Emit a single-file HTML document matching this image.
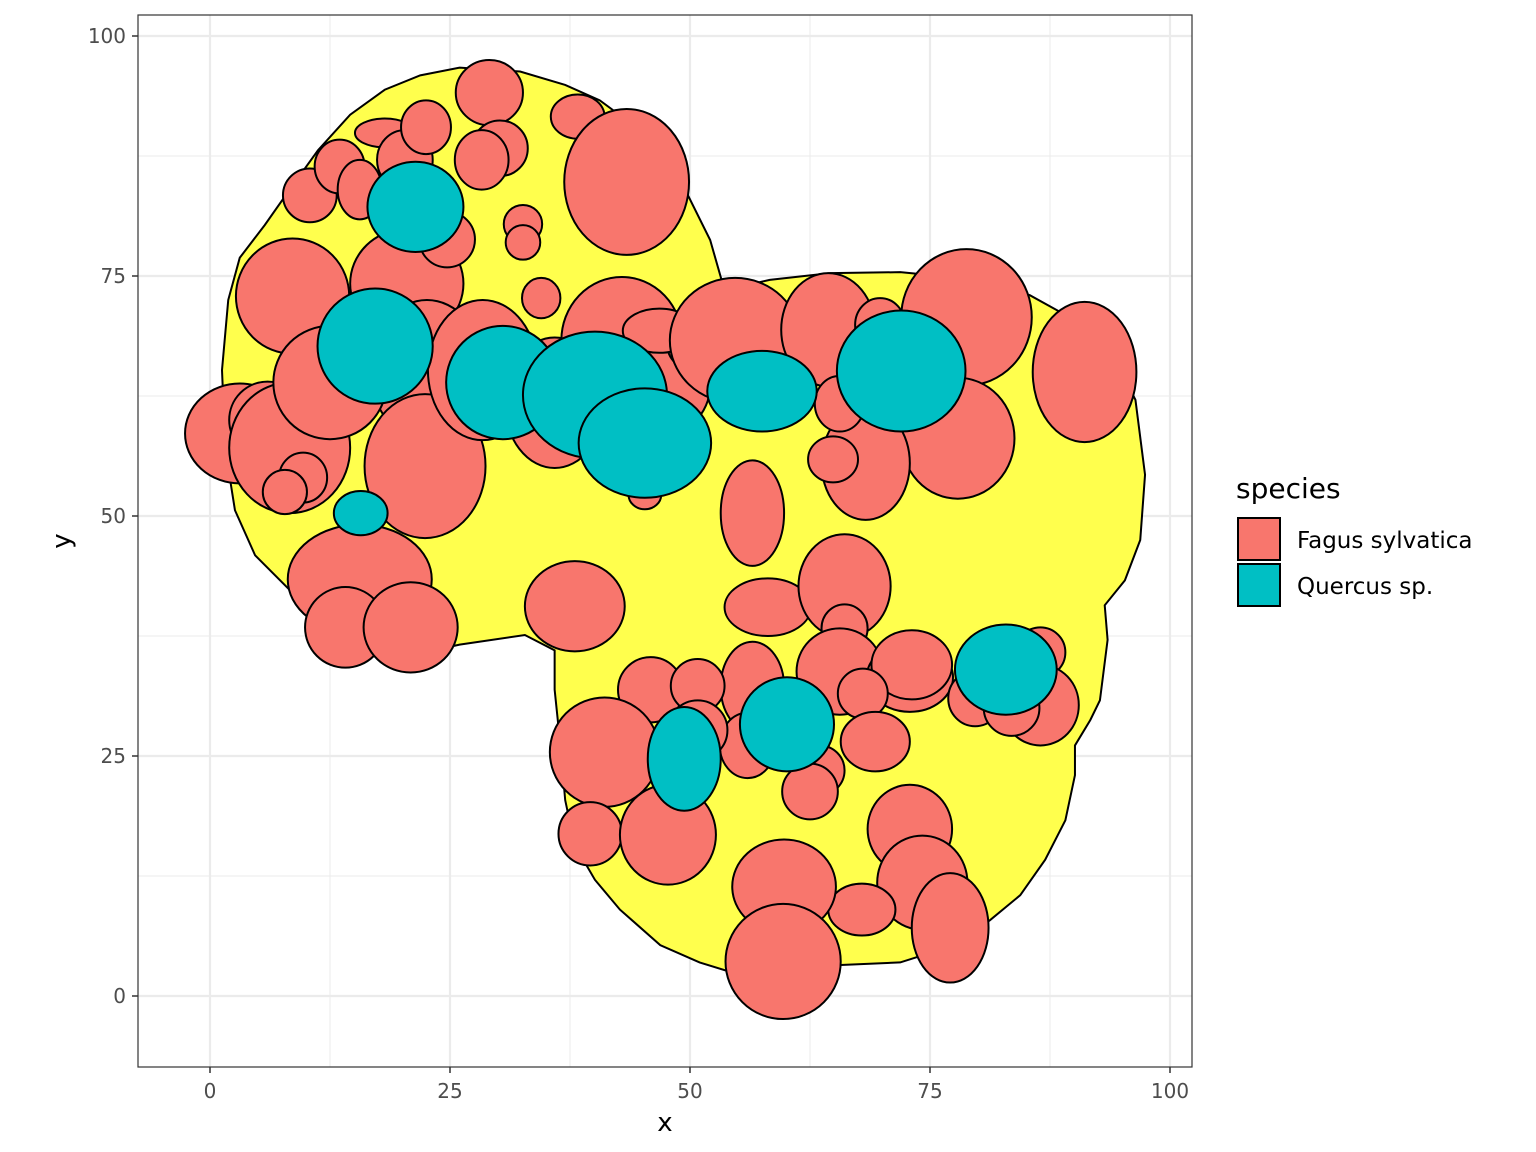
<!DOCTYPE html>
<html><head><meta charset="utf-8"><style>
body{margin:0;background:#fff}
svg{display:block;font-family:"DejaVu Sans","Liberation Sans",sans-serif}
</style></head><body>
<svg id="chart" width="1536" height="1152" viewBox="0 0 1536 1152">
<rect width="1536" height="1152" fill="#fff"/>
<g id="grid"></g>
<g id="hull"></g>
<g id="crowns"></g>
<rect x="138" y="15" width="1054" height="1052" fill="none" stroke="#333" stroke-width="1.2"/>
<g id="axes"></g>
<text x="665" y="1131" font-size="26" text-anchor="middle" fill="#000">x</text>
<text x="0" y="0" font-size="26" text-anchor="middle" fill="#000" transform="translate(70,541) rotate(-90)">y</text>
<g>
<text x="1236" y="498" font-size="28" fill="#000">species</text>
<g>
<rect x="1238" y="518" width="42" height="42" fill="#F8766D" stroke="#000" stroke-width="2"/>
<text x="1297" y="548" font-size="23" fill="#000">Fagus sylvatica</text></g>
<g>
<rect x="1238" y="564" width="42" height="42" fill="#00BFC4" stroke="#000" stroke-width="2"/>
<text x="1297" y="594" font-size="23" fill="#000">Quercus sp.</text></g>
</g>
</svg>
<script>
const xTicks=[0,25,50,75,100];
const yTicks=[0,25,50,75,100];
const xMinor=[-12.5,12.5,37.5,62.5,87.5];
const yMinor=[12.5,37.5,62.5,87.5];
// hull polygon (data units)
const hullX=[1.25,1.9,3.1,5.7,8.3,11.25,14.6,18.2,21.9,26.0,32.3,37.0,40.6,44.8,49.0,52.1,53.6,58.3,64.6,71.9,80.2,85.4,90.1,93.75,96.4,97.4,96.9,95.3,93.2,93.5,92.7,91.7,90.1,90.1,89.1,87.0,84.4,81.25,77.6,71.9,65.1,61.5,55.2,51.0,46.9,42.7,40.1,38.0,37.0,36.5,35.9,35.9,32.8,26.0,21.9,17.7,12.5,8.3,4.7,2.6,1.6];
const hullY=[65.2,72.5,76.9,80.3,84.0,88.1,91.8,94.4,95.9,96.7,96.3,94.9,93.3,90.2,85.0,78.75,73.5,74.6,75.3,75.4,74.6,73.0,70.4,67.3,62.1,54.3,47.5,43.3,40.7,37.1,30.8,28.75,26.1,23.0,18.3,14.2,10.5,7.9,5.3,3.5,3.2,2.2,2.2,3.5,5.3,9.0,12.1,15.7,20.4,26.1,31.9,36.0,37.6,36.6,35.7,37.1,40.2,42.3,45.9,50.6,56.9];
// Fagus sylvatica crowns
const fagusX=[3.1,6.0,8.3,8.6,20.5,22.6,22.4,12.5,15.6,14.1,20.9,9.7,7.8,10.4,13.5,15.6,18.2,20.3,22.5,24.7,29.1,30.2,28.3,32.6,32.6,34.5,38.3,43.4,28.4,35.9,42.9,45.8,50.5,46.8,54.7,64.4,69.8,78.8,77.9,68.3,64.9,65.6,91.1,56.5,58.1,66.1,66.1,65.6,72.9,73.1,68.0,69.3,79.7,84.6,86.5,86.5,83.5,38.0,45.9,41.1,39.6,47.7,56.5,56.0,50.8,50.8,63.5,62.5,72.9,74.2,77.1,67.9,59.8,59.7,45.3];
const fagusY=[58.6,60.0,57.1,72.9,74.2,65.2,55.2,63.9,43.4,38.4,38.4,54.0,52.5,83.4,86.4,84.0,89.9,87.1,90.5,78.8,94.1,88.3,87.1,80.4,78.5,72.7,91.6,84.8,65.2,61.8,68.3,63.6,68.0,69.3,68.3,69.4,69.9,70.7,58.1,55.5,55.9,61.7,65.0,50.3,40.5,42.7,38.3,33.8,33.2,34.5,31.5,26.5,31.0,35.2,35.8,30.3,30.0,40.6,31.9,25.4,16.9,16.8,32.2,26.1,32.3,27.7,23.5,21.3,17.4,11.8,7.1,9.0,11.4,3.6,52.2];
const fagusRx=[5.7,4.0,6.3,5.9,5.9,5.9,6.3,5.9,7.5,4.2,4.9,2.5,2.3,2.8,2.6,2.3,3.1,2.9,2.6,2.9,3.5,2.9,2.8,2.0,1.8,2.0,2.8,6.5,5.7,5.2,6.3,6.3,2.9,3.8,6.8,4.9,2.6,6.8,5.9,4.6,2.6,2.6,5.4,3.3,4.5,4.8,2.4,4.5,4.5,4.2,2.6,3.6,2.8,1.8,2.6,4.0,2.9,5.2,3.4,5.7,3.3,5.0,3.3,2.9,2.8,3.1,2.6,2.9,4.4,4.7,4.0,3.5,5.4,6.0,1.7];
const fagusRy=[5.2,4.0,6.8,6.0,5.7,7.3,7.5,5.9,5.7,4.2,4.7,2.6,2.3,2.8,2.8,3.1,1.5,3.1,2.8,2.9,3.4,2.9,3.1,2.0,1.8,2.1,2.3,7.6,7.3,6.8,6.6,5.7,2.9,2.3,6.5,5.9,2.8,7.1,6.3,5.9,2.4,2.9,7.3,5.5,3.0,5.4,2.5,4.5,3.6,3.6,2.6,3.1,2.9,2.1,2.6,4.2,2.9,4.7,3.4,5.7,3.3,5.2,4.7,3.4,2.8,3.1,2.6,2.9,4.6,4.9,5.7,2.7,4.9,6.0,1.5];
// Quercus sp. crowns
const quercusX=[21.4,17.2,30.5,40.1,45.3,57.5,72.0,82.9,60.1,49.4,15.7];
const quercusY=[82.2,67.7,63.9,62.6,57.6,63.0,65.1,34.0,28.3,24.7,50.3];
const quercusRx=[5.0,6.0,5.9,7.5,6.9,5.7,6.7,5.3,4.9,3.8,2.8];
const quercusRy=[4.7,6.0,5.9,6.6,5.7,4.2,6.3,4.7,4.9,5.4,2.3];

const NS='http://www.w3.org/2000/svg';
const X0=210,Y0=996,S=9.6,L=138,R=1192,T=15,B=1067;
const sx=v=>X0+v*S, sy=v=>Y0-v*S, sr=v=>v*S;
function mk(tag,attrs,parent){const e=document.createElementNS(NS,tag);for(const k in attrs)e.setAttribute(k,attrs[k]);parent.appendChild(e);return e;}
const grid=document.getElementById('grid');
mk('rect',{x:L,y:T,width:R-L,height:B-T,fill:'#fff'},grid);
xMinor.forEach(v=>{if(sx(v)>L){const l=mk('line',{x1:sx(v),x2:sx(v),y1:T,y2:B,stroke:'#ebebeb','stroke-width':1},grid);

}});
yMinor.forEach(v=>{const l=mk('line',{x1:L,x2:R,y1:sy(v),y2:sy(v),stroke:'#ebebeb','stroke-width':1},grid);

});
xTicks.forEach(v=>{const l=mk('line',{x1:sx(v),x2:sx(v),y1:T,y2:B,stroke:'#ebebeb','stroke-width':2.2},grid);

});
yTicks.forEach(v=>{const l=mk('line',{x1:L,x2:R,y1:sy(v),y2:sy(v),stroke:'#ebebeb','stroke-width':2.2},grid);

});

const hull=document.getElementById('hull');
const pts=hullX.map((x,i)=>sx(x)+','+sy(hullY[i])).join(' ');
const poly=mk('polygon',{points:pts,fill:'#ffff4d',stroke:'#000','stroke-width':2},hull);



const crowns=document.getElementById('crowns');
fagusX.forEach((x,i)=>{const e=mk('ellipse',{cx:sx(x),cy:sy(fagusY[i]),rx:sr(fagusRx[i]),ry:sr(fagusRy[i]),fill:'#F8766D',stroke:'#000','stroke-width':2},crowns);

});
quercusX.forEach((x,i)=>{const e=mk('ellipse',{cx:sx(x),cy:sy(quercusY[i]),rx:sr(quercusRx[i]),ry:sr(quercusRy[i]),fill:'#00BFC4',stroke:'#000','stroke-width':2},crowns);

});

const axes=document.getElementById('axes');
xTicks.forEach(v=>{mk('line',{x1:sx(v),x2:sx(v),y1:B,y2:B+6,stroke:'#333','stroke-width':1.5},axes);
const t=mk('text',{x:sx(v),y:B+31,'font-size':20,'text-anchor':'middle',fill:'#4d4d4d'},axes);t.textContent=v;

});
yTicks.forEach(v=>{mk('line',{x1:L-6,x2:L,y1:sy(v),y2:sy(v),stroke:'#333','stroke-width':1.5},axes);
const t=mk('text',{x:L-12,y:sy(v)+7,'font-size':20,'text-anchor':'end',fill:'#4d4d4d'},axes);t.textContent=v;

});
</script>
</body></html>
